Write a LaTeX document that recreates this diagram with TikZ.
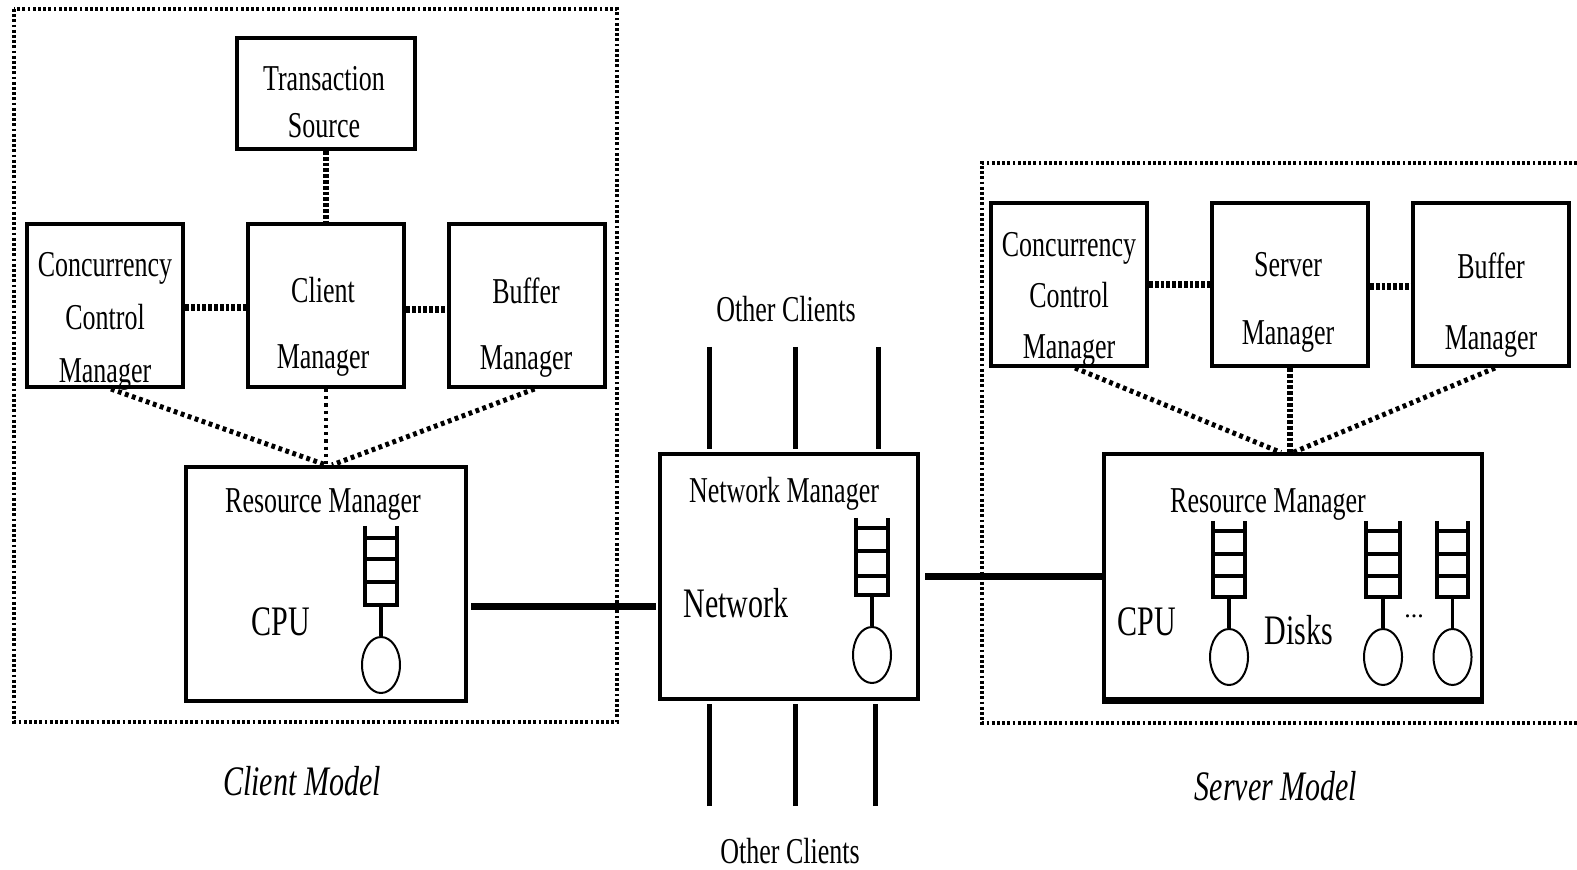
\documentclass[tikz,border=0pt]{standalone}
\usepackage{fontspec}
\setmainfont{Liberation Serif}
\usetikzlibrary{calc,shapes.geometric}

\tikzset{
  mgrbox/.style={draw,line width=2pt,inner sep=0pt},
  txt/.style={font=\fontsize{13}{#1}\selectfont,align=center,inner sep=0pt},
  txt/.default=27,
  bigtxt/.style={font=\fontsize{15}{18}\selectfont,inner sep=0pt},
  capt/.style={font=\fontsize{15}{18}\selectfont\itshape,inner sep=0pt},
  border/.style={line width=2.2pt,dash pattern=on 1.4pt off 1.2pt},
  dots/.style={line width=2.5pt,dash pattern=on 1.9pt off 1.8pt},
  thindots/.style={line width=1.8pt,dash pattern=on 1.6pt off 2pt},
  fatdots/.style={line width=3.2pt,dash pattern=on 1.9pt off 1pt},
  link/.style={line width=3.5pt},
  wire/.style={line width=2.5pt},
  srvc/.style={draw,ellipse,line width=1pt,minimum width=19pt,minimum height=28pt,inner sep=0pt}
}
\newcommand{\tall}[1]{\scalebox{1}[1.4]{#1}}
% queue with its server circle: name, left, right, top, bottom, three rungs
\newcommand{\qsrv}[8]{
  \draw[line width=1.6pt] (#2,#4) -- (#2,#5) -- (#3,#5) -- (#3,#4);
  \foreach \r in {#6,#7,#8} \draw[line width=2pt] (#2,\r) -- (#3,\r);
  \coordinate (#1b) at ($(#2,#5)!.5!(#3,#5)$);
  \node[srvc] (#1s) at ([yshift=-30pt]#1b) {};
  \draw[line width=1.6pt] (#1b) -- (#1s.north);
}

\begin{document}
\begin{tikzpicture}[x=0.5pt,y=-0.5pt]
  \useasboundingbox (0,0) rectangle (1577,870);

  % client side
  \draw[border] (14,9) rectangle (617,722);
  \node[mgrbox,minimum width=89pt,minimum height=55.5pt] (tsrc) at (326,93.5) {};
  \node[mgrbox,minimum width=78pt,minimum height=81.5pt] (ccmc) at (105,305.5) {};
  \node[mgrbox,minimum width=78pt,minimum height=81.5pt] (cmgr) at (326,305.5) {};
  \node[mgrbox,minimum width=78pt,minimum height=81.5pt] (bmgc) at (526.5,305.5) {};
  \node[mgrbox,minimum width=140pt,minimum height=117pt] (rmgc) at (326,584) {};
  \node[txt=23.5] (tsrct) at (324,102) {\tall{Transaction}\\\tall{Source}};
  \node[txt=26.5] (ccmct) at (105,321) {\tall{Concurrency}\\\tall{Control}\\\tall{Manager}};
  \node[txt=33] (cmgrt) at (323,327) {\tall{Client}\\\tall{Manager}};
  \node[txt=33] (bmgct) at (526,328) {\tall{Buffer}\\\tall{Manager}};
  \node[txt] (rmgct) at (323,505) {\tall{Resource Manager}};
  \node[bigtxt] (ccpu) at (281,622) {\tall{CPU}};
  \qsrv{cq}{365}{397}{526}{605}{538}{559}{582}
  \draw[fatdots] (tsrc.south) -- (cmgr.north);
  \draw[fatdots] ([yshift=-1pt]ccmc.east) -- ([yshift=-1pt]cmgr.west);
  \draw[fatdots] ([yshift=-2pt]cmgr.east) -- ([yshift=-2pt]bmgc.west);
  \draw[dots] ([xshift=3pt]ccmc.south) -- (rmgc.north);
  \draw[thindots] (cmgr.south) -- (rmgc.north);
  \draw[dots] ([xshift=4pt]bmgc.south) -- ([xshift=3pt]rmgc.north);
  \node[capt] (cmodel) at (302,781) {\tall{Client Model}};

  % network
  \node[mgrbox,minimum width=129pt,minimum height=122.5pt] (net) at (789,576.5) {};
  \node[txt] (nett) at (784,494) {\tall{Network Manager}};
  \node[bigtxt] (netl) at (736,603) {\tall{Network}};
  \qsrv{nq}{856}{888}{518}{595}{528}{551}{576}
  \node[txt] (otop) at (786,309) {\tall{Other Clients}};
  \node[txt] (obot) at (790,851) {\tall{Other Clients}};
  \foreach \n/\x in {a/709,b/795,c/878} {
    \coordinate (t\n) at (\x,347);
    \draw[wire,shorten >=1.5pt] (t\n) -- (t\n |- net.north);
  }
  \foreach \n/\x in {a/709,b/795,c/875} {
    \coordinate (u\n) at (\x,806);
    \draw[wire,shorten >=1.5pt] (u\n) -- (u\n |- net.south);
  }
  \draw[link,shorten <=1.5pt,shorten >=1pt] ([yshift=-11pt]rmgc.east) -- ([yshift=-14.75pt]net.west);

  % server side
  \draw[border] (1577,163) -- (982,163) -- (982,723) -- (1577,723);
  \node[mgrbox,minimum width=78pt,minimum height=81.5pt] (ccms) at (1069,284.5) {};
  \node[mgrbox,minimum width=78pt,minimum height=81.5pt] (smgr) at (1290,284.5) {};
  \node[mgrbox,minimum width=78pt,minimum height=81.5pt] (bmgs) at (1491,284.5) {};
  \node[mgrbox,minimum width=189pt,minimum height=122pt] (rmgs) at (1293,576.5) {};
  \draw[line width=3pt] (rmgs.south west) -- (rmgs.south east);
  \node[txt=25.5] (ccmst) at (1069,299) {\tall{Concurrency}\\\tall{Control}\\\tall{Manager}};
  \node[txt=34] (smgrt) at (1288,302) {\tall{Server}\\\tall{Manager}};
  \node[txt=35.5] (bmgst) at (1491,305) {\tall{Buffer}\\\tall{Manager}};
  \node[txt] (rmgst) at (1268,505) {\tall{Resource Manager}};
  \node[bigtxt] (scpu) at (1147,622) {\tall{CPU}};
  \node[bigtxt] (disks) at (1299,630) {\tall{Disks}};
  \node[txt] (sdots) at (1414,616) {...};
  \qsrv{sqa}{1213}{1245}{521}{597}{531}{554}{576}
  \qsrv{sqb}{1366}{1400}{521}{597}{531}{554}{576}
  \qsrv{sqc}{1437}{1468}{521}{597}{531}{554}{576}
  \draw[fatdots] (ccms.east) -- (smgr.west);
  \draw[fatdots] ([yshift=-1pt]smgr.east) -- ([yshift=-1pt]bmgs.west);
  \draw[dots] ([xshift=3pt]ccms.south) -- ([xshift=-6pt]rmgs.north);
  \draw[fatdots] (smgr.south) -- (smgr.south |- rmgs.north);
  \draw[dots] ([xshift=2pt]bmgs.south) -- (rmgs.north);
  \draw[link,shorten <=2.5pt] (net.east) -- (rmgs.west);
  \node[capt] (smodel) at (1276,786) {\tall{Server Model}};
\end{tikzpicture}
\end{document}
